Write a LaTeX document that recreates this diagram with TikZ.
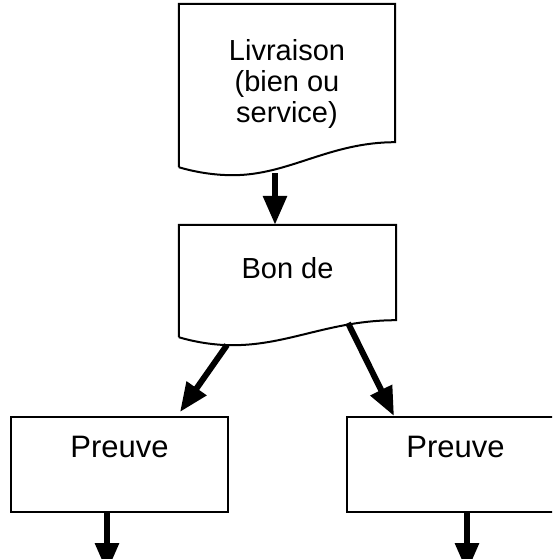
\documentclass[tikz,border=0pt]{standalone}
\usepackage{fontspec}
\setmainfont{Liberation Sans}
\usepackage{tikz}
\usetikzlibrary{arrows.meta,calc}

% outline of a document box with a wavy bottom edge
\newcommand{\docoutline}[2]{%
  \draw[boxline] (#1.south west) -- (#1.north west) -- (#1.north east)
    -- ([shift={(0,-#2)}]#1.south east)
    .. controls +(-66,0) and +(56,0) .. ([shift={(54,8)}]#1.south west)
    .. controls +(-24,0) and +(10,3) .. (#1.south west);}

\begin{document}
\begin{tikzpicture}[x=1pt, y=-1pt,
    boxline/.style={line width=2pt, line join=miter},
    docbox/.style={rectangle, inner sep=0pt, minimum width=216pt},
    procbox/.style={rectangle, draw, line width=2pt, inner sep=0pt,
      minimum width=217pt, minimum height=95pt},
    doctext/.style={inner sep=0pt, align=center, font=\fontsize{29}{31}\selectfont},
    proctext/.style={inner sep=0pt, font=\fontsize{31}{33}\selectfont},
    flow/.style={line width=6pt, -{Triangle[length=29pt,width=23pt]}}]
        % Page
        \clip (0,0) rectangle (552,559);

        % Documents
        \node[docbox, minimum height=163pt] (livraison) at (287,85.5) {};
        \docoutline{livraison}{25}
        \node[doctext] (livText) at (287,84) {Livraison\\(bien ou\\service)};

        \node[docbox, minimum width=217pt, minimum height=112pt] (bon) at (287.5,281) {};
        \docoutline{bon}{17}
        \node[doctext] (bonText) at (287.5,268) {Bon de};

        % Proof boxes
        \node[procbox] (preuveA) at (119.5,464.5) {};
        \node[proctext] (preuveAText) at (119.5,447) {Preuve};
        \node[procbox] (preuveB) at (455.5,464.5) {};
        \node[proctext] (preuveBText) at (455.5,447) {Preuve};

        % Points on the wavy edges and free ends
        \coordinate (livOut) at (275,173);
        \coordinate (bonOutL) at (227,345);
        \coordinate (bonOutR) at (348,323);
        \coordinate (outA) at (107,572);
        \coordinate (outB) at (467,572);

        % Arrows
        \draw[flow] (livOut) -- (livOut |- bon.north);
        \draw[flow] (bonOutL) -- ([xshift=60.5pt,yshift=4pt]preuveA.north);
        \draw[flow] (bonOutR) -- ([xshift=-61.5pt]preuveB.north);
        \draw[flow] (outA |- preuveA.south) -- (outA);
        \draw[flow] (outB |- preuveB.south) -- (outB);
    \end{tikzpicture}
\end{document}
